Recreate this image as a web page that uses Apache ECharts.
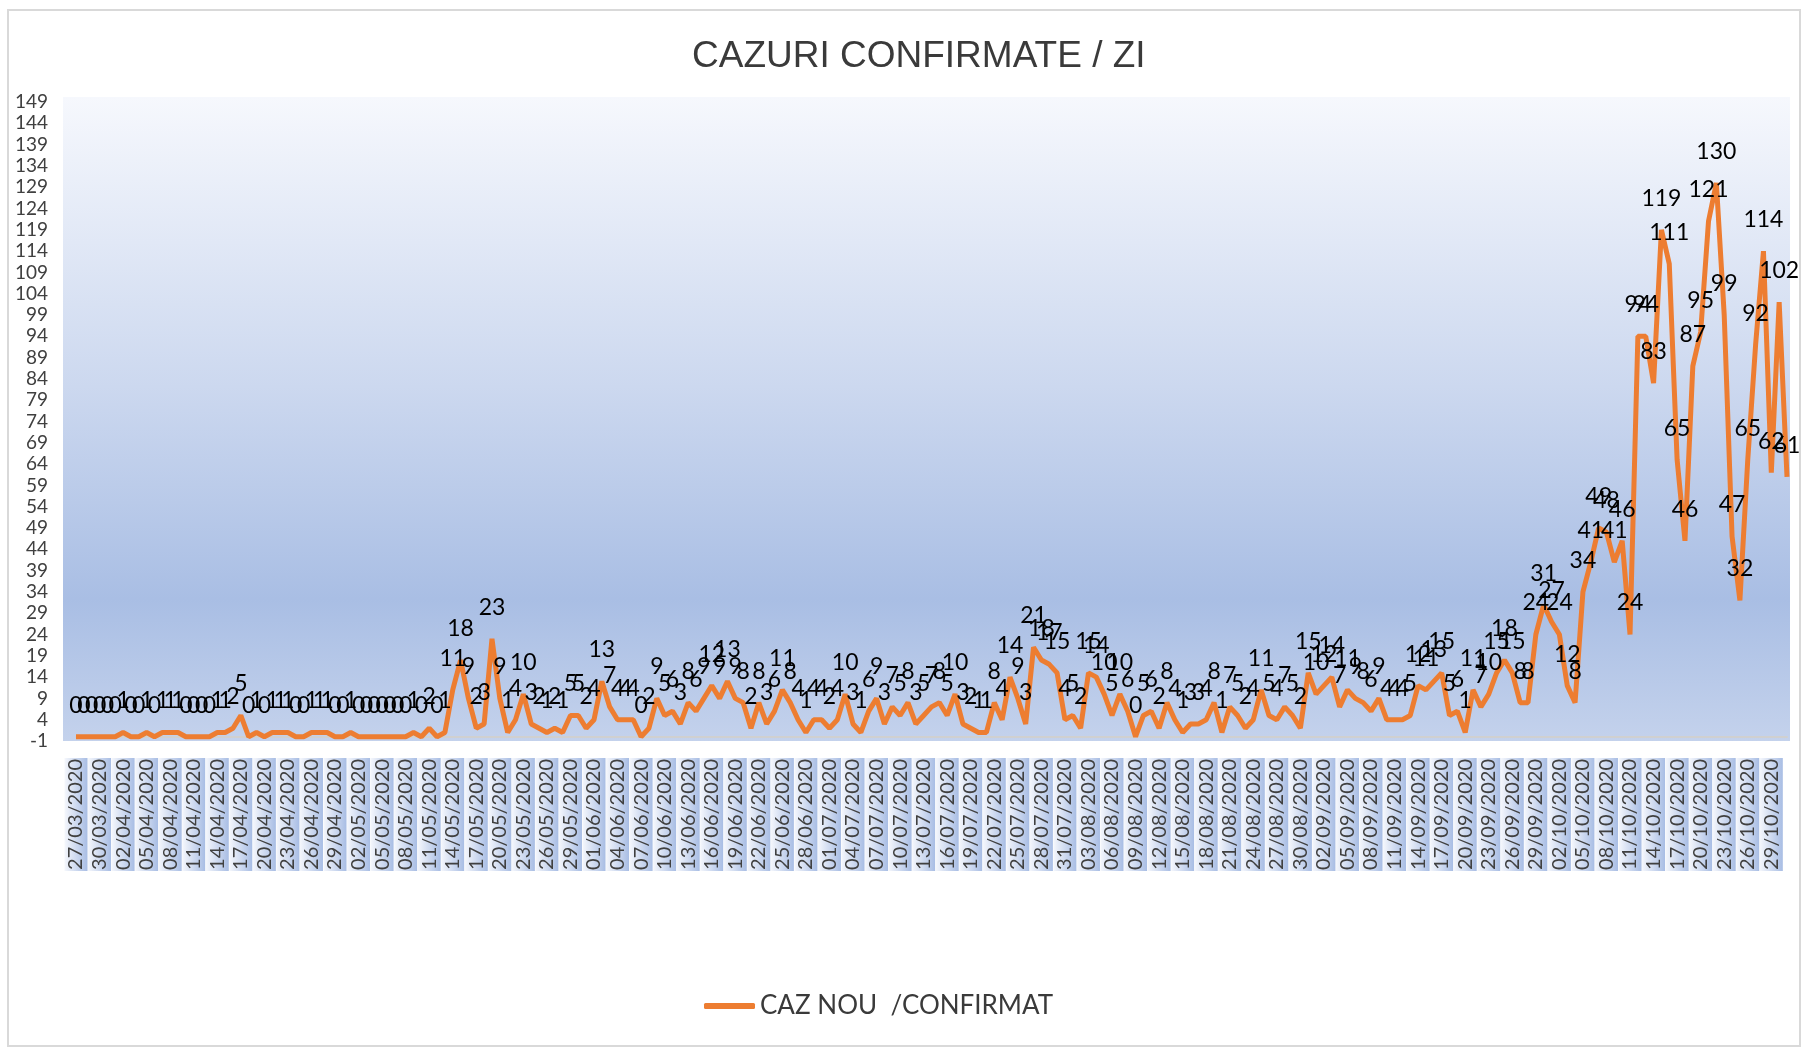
<!DOCTYPE html>
<html lang="ro">
<head>
    <meta charset="UTF-8">
    <script src="https://cdn.jsdelivr.net/npm/echarts@6/dist/echarts.min.js"></script>
    <title>Cazuri confirmate / zi</title>
    <style>
        html, body {
            margin: 0;
            padding: 0;
            background: #ffffff;
        }

        #main {
            width: 1809px;
            height: 1051px;
        }
    </style>
</head>

<body>
<div id="main"></div>

<script>
    // serie: cazuri noi confirmate pe zi, 27/03/2020 - 31/10/2020
    var seriesName = 'CAZ NOU  /CONFIRMAT';
    var firstDay = '2020-03-27';
    var dayCount = 219;

    var cazuriMartieMai = [
        0, 0, 0, 0, 0, 0, 1, 0, 0, 1, 0, 1, 1, 1, 0, 0, 0, 0, 1, 1,
        2, 5, 0, 1, 0, 1, 1, 1, 0, 0, 1, 1, 1, 0, 0, 1, 0, 0, 0, 0,
        0, 0, 0, 1, 0, 2, 0, 1, 11, 18, 9, 2, 3, 23, 9, 1, 4, 10, 3, 2,
        1, 2, 1, 5, 5, 2, 4, 13, 7, 4, 4, 4, 0, 2
    ];
    var cazuriIunieAugust = [
        9, 5, 6, 3, 8, 6, 9, 12, 9, 13, 9, 8, 2, 8, 3, 6, 11, 8, 4, 1,
        4, 4, 2, 4, 10, 3, 1, 6, 9, 3, 7, 5, 8, 3, 5, 7, 8, 5, 10, 3,
        2, 1, 1, 8, 4, 14, 9, 3, 21, 18, 17, 15, 4, 5, 2, 15, 14, 10, 5, 10,
        6, 0, 5, 6, 2, 8, 4, 1, 3, 3, 4, 8, 1, 7, 5, 2, 4, 11, 5, 4,
        7, 5
    ];
    var cazuriSeptembrieOctombrie = [
        2, 15, 10, 12, 14, 7, 11, 9, 8, 6, 9, 4, 4, 4, 5, 12, 11, 13, 15, 5,
        6, 1, 11, 7, 10, 15, 18, 15, 8, 8, 24, 31, 27, 24, 12, 8, 34, 41, 49, 48,
        41, 46, 24, 94, 94, 83, 119, 111, 65, 46, 87, 95, 121, 130, 99, 47, 32, 65, 92, 114,
        62, 102, 61
    ];
    var cazuri = cazuriMartieMai.concat(cazuriIunieAugust, cazuriSeptembrieOctombrie);

    var yMin = -1;
    var yMax = 149;
    var yStep = 5;

    // etichete axa X: dd/mm/yyyy
    function pad2(n) {
        return n < 10 ? '0' + n : '' + n;
    }

    var zile = [];
    var d0 = new Date(firstDay + 'T12:00:00');
    for (var i = 0; i < dayCount; i++) {
        var d = new Date(d0.getTime() + i * 86400000);
        zile.push(pad2(d.getDate()) + '/' + pad2(d.getMonth() + 1) + '/' + d.getFullYear());
    }

    var myChart = echarts.init(document.getElementById('main'));

    var fontExcel = 'Lato, "Open Sans", sans-serif';

    var option = {
        backgroundColor: '#ffffff',
        animation: false,
        title: {
            text: 'CAZURI CONFIRMATE / ZI',
            left: 687,
            top: 30,
            textStyle: {
                fontFamily: '"Liberation Sans", Arial, sans-serif',
                fontSize: 37,
                fontWeight: 'normal',
                color: '#3a3a3a',
                lineHeight: 44
            }
        },
        graphic: [
            {
                type: 'rect',
                z: -10,
                silent: true,
                shape: {x: 8, y: 10, width: 1792, height: 1036},
                style: {fill: '#ffffff', stroke: '#d9d9d9', lineWidth: 2}
            },
            {
                type: 'rect',
                z: -5,
                silent: true,
                shape: {x: 63, y: 97, width: 1727, height: 644},
                style: {
                    fill: new echarts.graphic.LinearGradient(0, 0, 0, 1, [
                        {offset: 0, color: '#f6f8fd'},
                        {offset: 0.45, color: '#ccd8ef'},
                        {offset: 0.78, color: '#a9bee4'},
                        {offset: 1, color: '#c4d2ec'}
                    ])
                }
            }
        ],
        legend: {
            left: 699,
            top: 988,
            icon: 'roundRect',
            itemWidth: 51,
            itemHeight: 6,
            itemGap: 10,
            textStyle: {
                fontFamily: fontExcel,
                fontSize: 26,
                color: '#3a3a3a'
            },
            data: [seriesName]
        },
        grid: {
            left: 76,
            right: 22,
            top: 102,
            bottom: 310,
            containLabel: false
        },
        xAxis: {
            type: 'category',
            boundaryGap: false,
            data: zile,
            axisLine: {
                show: true,
                onZero: true,
                lineStyle: {color: '#d0d0d0', width: 2}
            },
            axisTick: {show: false},
            axisLabel: {
                interval: 2,
                rotate: 90,
                margin: 17,
                fontFamily: fontExcel,
                fontSize: 20,
                lineHeight: 23,
                color: '#404040',
                padding: [0, 1],
                backgroundColor: new echarts.graphic.LinearGradient(0, 0, 0, 1, [
                    {offset: 0, color: '#f5f7fc'},
                    {offset: 1, color: '#a8bde4'}
                ])
            },
            splitLine: {show: false}
        },
        yAxis: {
            type: 'value',
            min: yMin,
            max: yMax,
            interval: yStep,
            axisLine: {show: false},
            axisTick: {show: false},
            splitLine: {show: false},
            axisLabel: {
                margin: 28,
                fontFamily: fontExcel,
                fontSize: 19,
                color: '#404040'
            }
        },
        series: [
            {
                name: seriesName,
                type: 'line',
                data: cazuri,
                showSymbol: true,
                showAllSymbol: true,
                symbol: 'circle',
                symbolSize: 0.01,
                lineStyle: {color: '#ed7d31', width: 5},
                itemStyle: {color: '#ed7d31'},
                label: {
                    show: true,
                    position: 'top',
                    distance: 20,
                    fontFamily: fontExcel,
                    fontSize: 23,
                    color: '#000000'
                },
                labelLayout: {hideOverlap: false}
            }
        ]
    };

    myChart.setOption(option);
</script>

</body>

</html>
